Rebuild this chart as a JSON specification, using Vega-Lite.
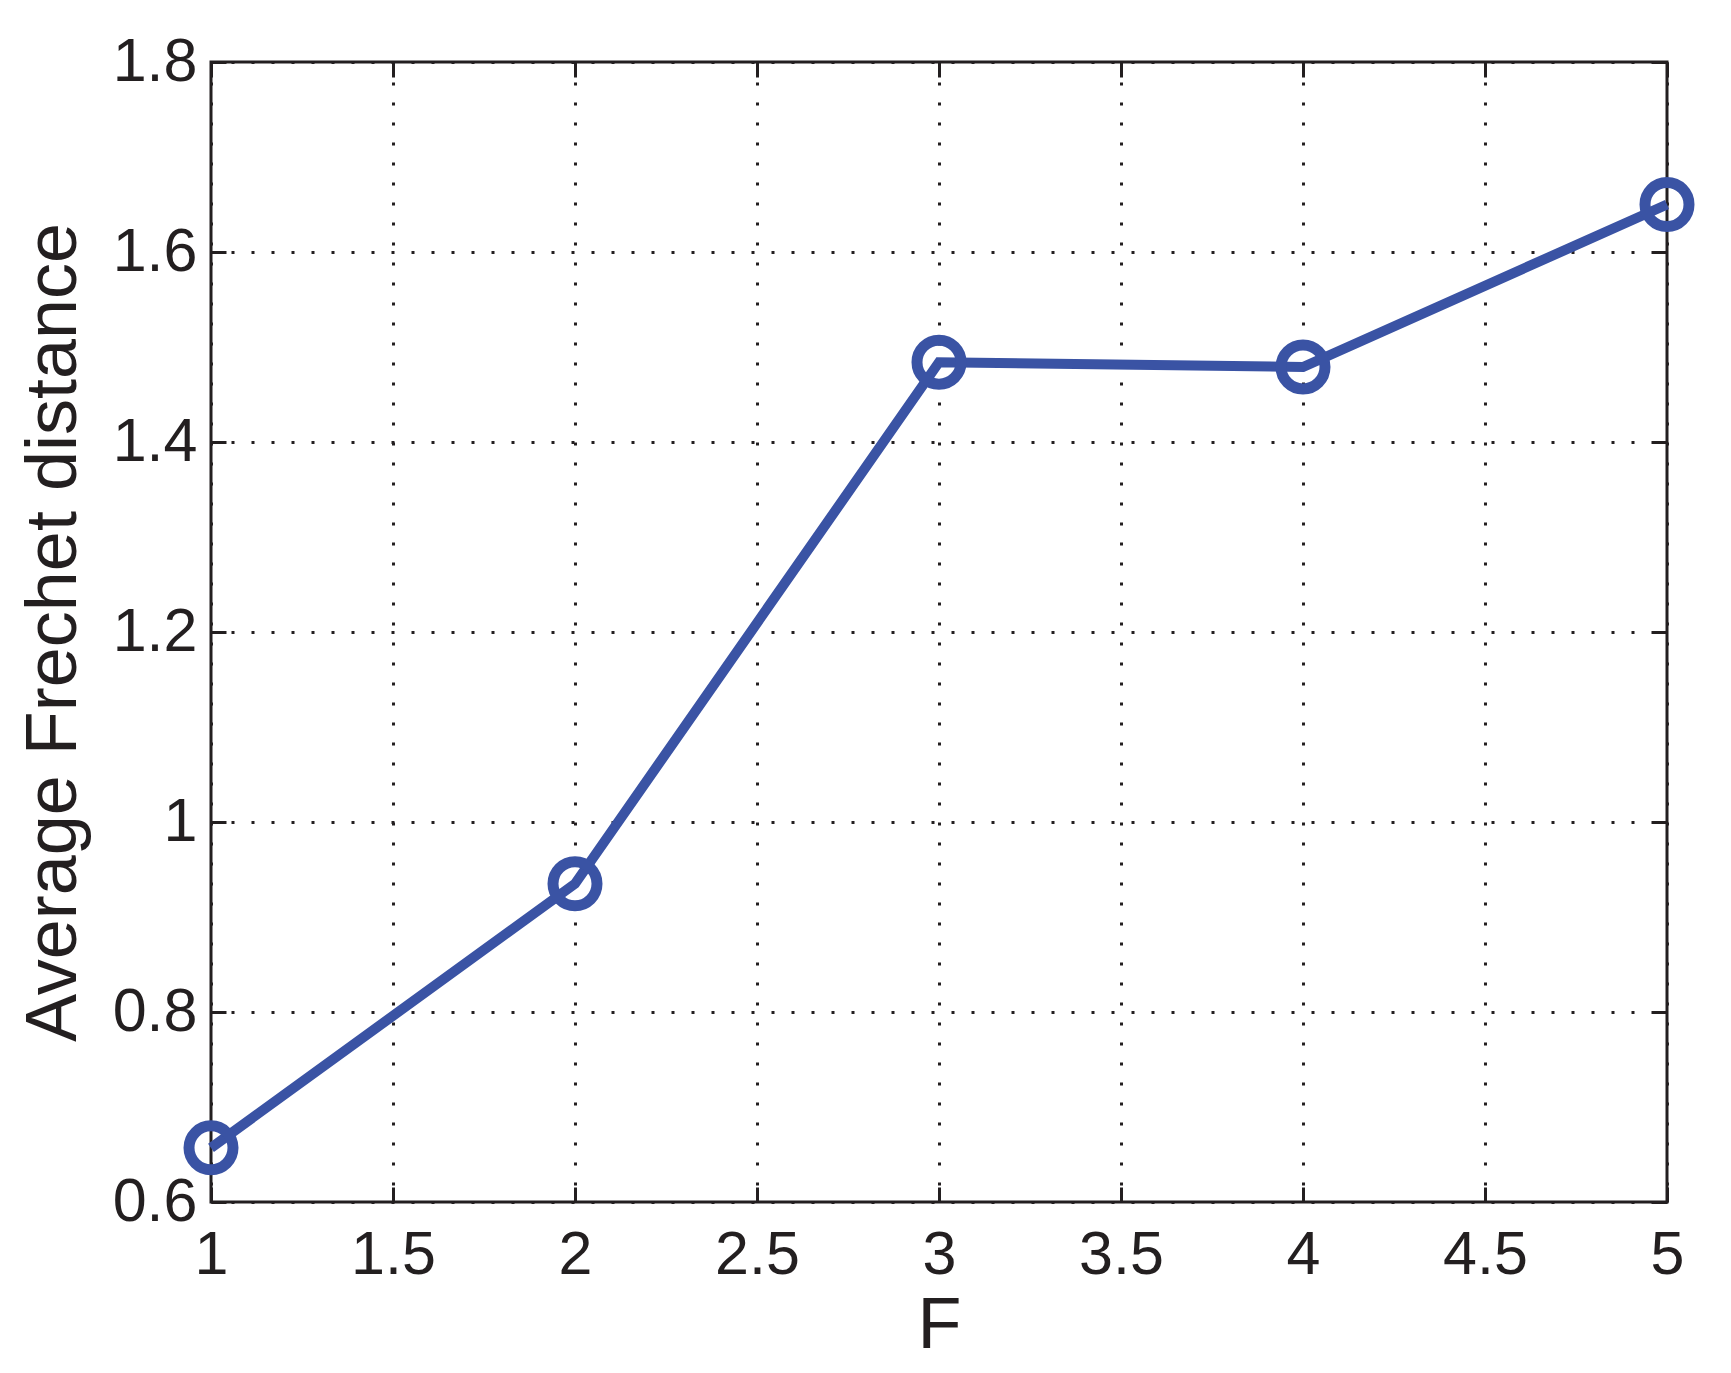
{
  "$schema": "https://vega.github.io/schema/vega-lite/v6.json",
  "autosize": "none",
  "width": 1456,
  "height": 1140,
  "padding": {"left": 211, "top": 62, "right": 64, "bottom": 171},
  "background": "white",
  "config": {
    "view": {"stroke": "#231f20", "strokeWidth": 3},
    "font": "Liberation Sans",
    "axis": {
      "labelFont": "Liberation Sans",
      "titleFont": "Liberation Sans",
      "labelFontSize": 61,
      "titleFontSize": 72,
      "labelColor": "#231f20",
      "titleColor": "#231f20",
      "titleFontWeight": "normal",
      "domain": false,
      "tickSize": -15,
      "tickWidth": 3,
      "tickColor": "#231f20",
      "gridColor": "#231f20",
      "gridOpacity": 1,
      "gridWidth": 3,
      "gridDash": [3, 17],
      "labelFlush": false,
      "labelOverlap": false
    }
  },
  "data": {
    "values": [
      {"F": 1, "dist": 0.657},
      {"F": 2, "dist": 0.935},
      {"F": 3, "dist": 1.484},
      {"F": 4, "dist": 1.479},
      {"F": 5, "dist": 1.650}
    ]
  },
  "layer": [
    {
      "mark": {"type": "line", "color": "#3a53a4", "strokeWidth": 10, "clip": false},
      "encoding": {
        "x": {
          "field": "F", "type": "quantitative",
          "scale": {"domain": [1, 5], "nice": false, "zero": false},
          "axis": {
            "orient": "bottom", "title": "F",
            "values": [1, 1.5, 2, 2.5, 3, 3.5, 4, 4.5, 5],
            "format": "~g",
            "labelPadding": 38.5,
            "titleBaseline": "alphabetic",
            "titleAnchor": "middle",
            "titleX": 728,
            "titleY": 145,
            "grid": true
          }
        },
        "y": {
          "field": "dist", "type": "quantitative",
          "scale": {"domain": [0.6, 1.8], "nice": false, "zero": false},
          "axis": {
            "orient": "left", "title": "Average Frechet distance",
            "values": [0.6, 0.8, 1, 1.2, 1.4, 1.6, 1.8],
            "format": "~g",
            "labelPadding": 29,
            "titleBaseline": "alphabetic",
            "titleAnchor": "middle",
            "titleX": -136,
            "titleY": 570,
            "grid": true
          }
        }
      }
    },
    {
      "mark": {"type": "point", "shape": "circle", "filled": false, "color": "#3a53a4", "strokeWidth": 11, "size": 1936, "opacity": 1, "clip": false},
      "encoding": {
        "x": {"field": "F", "type": "quantitative", "axis": {"orient": "top", "labels": false, "title": null, "grid": false, "values": [1, 1.5, 2, 2.5, 3, 3.5, 4, 4.5, 5]}},
        "y": {"field": "dist", "type": "quantitative", "axis": {"orient": "right", "labels": false, "title": null, "grid": false, "values": [0.6, 0.8, 1, 1.2, 1.4, 1.6, 1.8]}}
      }
    }
  ],
  "resolve": {"axis": {"x": "independent", "y": "independent"}}
}
